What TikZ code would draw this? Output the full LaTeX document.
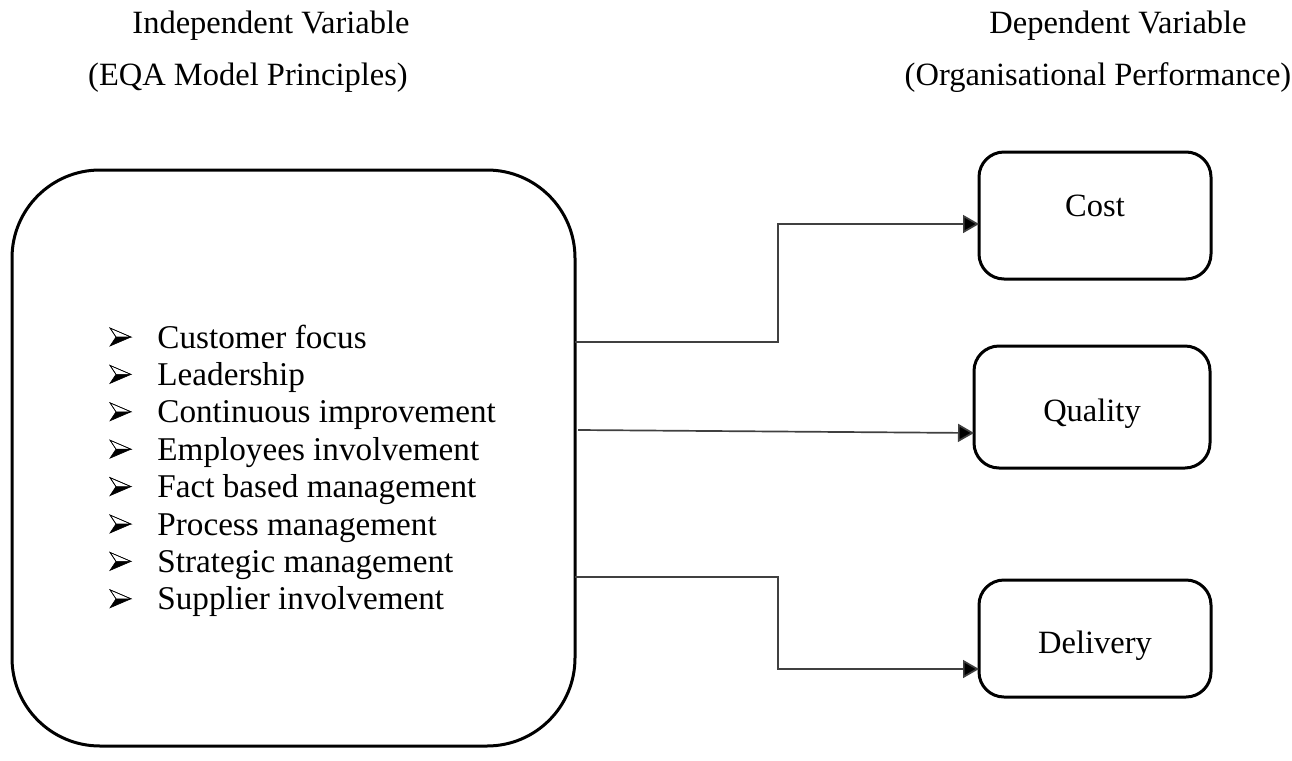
\documentclass[tikz,border=0pt]{standalone}
\usepackage{fontspec}
\setmainfont{Liberation Serif}
\usetikzlibrary{arrows.meta}
\begin{document}
\begin{tikzpicture}[x=0.5pt,y=-0.5pt,
  txt/.style={anchor=base,inner sep=0pt,font=\fontsize{16.25pt}{19pt}\selectfont},
  itemtxt/.style={anchor=base west,inner sep=0pt,font=\fontsize{16.6pt}{19pt}\selectfont},
  bigbox/.style={draw,line width=1.5pt,rounded corners=44pt},
  smallbox/.style={draw,line width=1.5pt,rounded corners=12.5pt},
  conn/.style={draw=black!75,line width=0.85pt,-{Triangle[length=8pt,width=9pt,fill=black]}},
  bulletpic/.pic={
    \draw[line width=0.3pt,fill=white] (0,-9) -- (21,0) -- (6,0) -- cycle;
    \fill[black] (6,0) -- (21,0) -- (0,9) -- cycle;
    \draw[line width=0.3pt] (0,-9) -- (21,0) -- (0,9) -- (6,0) -- cycle;
  }]
\useasboundingbox (0,0) rectangle (1292,761);
% headers
\node[txt] (h1) at (271,33) {Independent Variable};
\node[txt] (h2) at (248,85) {(EQA Model Principles)};
\node[txt] (h3) at (1118,33) {Dependent Variable};
\node[txt] (h4) at (1098,85) {(Organisational Performance)};
% big box
\path[bigbox] (12,170) rectangle (575,746);
% items
\foreach \t [count=\i] in {Customer focus,Leadership,Continuous improvement,Employees involvement,Fact based management,Process management,Strategic management,Supplier involvement}{
  \pgfmathsetmacro{\yy}{348+(\i-1)*37.4}
  \node[itemtxt] (item\i) at (157,\yy) {\t};
  \pic at (110,\yy-11) {bulletpic};
}
% right boxes
\node[smallbox,minimum width=116pt,minimum height=63.5pt,inner sep=0pt] (cost) at (1095,215.5) {};
\node[smallbox,minimum width=118pt,minimum height=61pt,inner sep=0pt] (quality) at (1092,407) {};
\node[smallbox,minimum width=116pt,minimum height=58.5pt,inner sep=0pt] (delivery) at (1095,638.5) {};
\node[txt] (costt) at (1095,216) {Cost};
\node[txt] (qualityt) at (1092,421) {Quality};
\node[txt] (deliveryt) at (1095,653) {Delivery};
% connectors
\coordinate (s1) at (575,342);
\coordinate (s2) at (578,430);
\coordinate (s3) at (575,577);
\coordinate (e1) at (979,224);
\coordinate (e2) at (974,433);
\coordinate (e3) at (979,669);
\draw[conn] (s1) -- (778,342) |- (e1);
\draw[conn] (s2) -- (e2);
\draw[conn] (s3) -- (778,577) |- (e3);
\end{tikzpicture}
\end{document}
